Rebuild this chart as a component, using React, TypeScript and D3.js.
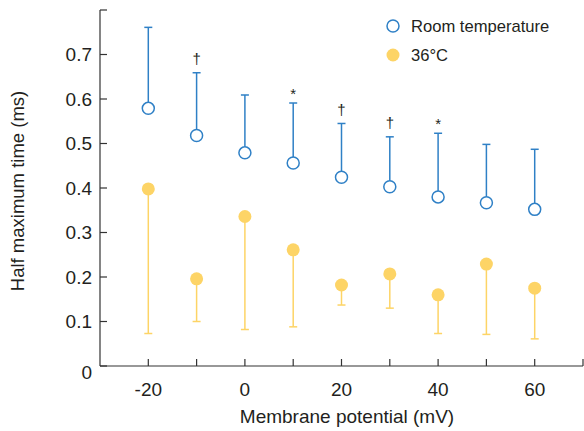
import * as d3 from "d3";

// membrane potential (mV)
const potentials = [-20, -10, 0, 10, 20, 30, 40, 50, 60];
// room temperature: mean and upper error
const roomMean = [0.579, 0.518, 0.479, 0.456, 0.424, 0.403, 0.38, 0.367, 0.352];
const roomUpper = [0.761, 0.659, 0.609, 0.591, 0.545, 0.515, 0.523, 0.498, 0.487];
const roomMarks = ["", "†", "", "*", "†", "†", "*", "", ""];
// 36°C: mean and lower error
const warmMean = [0.398, 0.196, 0.336, 0.261, 0.182, 0.207, 0.16, 0.229, 0.175];
const warmLower = [0.073, 0.1, 0.082, 0.088, 0.137, 0.13, 0.073, 0.071, 0.061];

const yTicks = [0, 0.1, 0.2, 0.3, 0.4, 0.5, 0.6, 0.7, 0.8];
const xTicks = [-20, -10, 0, 10, 20, 30, 40, 50, 60, 70];
const xLabels = [-20, 0, 20, 40, 60];

const BLUE = "#2f80c6";
const YELLOW = "#fdd466";
const AXIS = "#333";
const TEXT = "#231f20";
const FONT = "'Liberation Sans', Arial, sans-serif";

export default function App() {
  const x = d3.scaleLinear().domain([-30, 70]).range([100, 583]);
  const y = d3.scaleLinear().domain([0, 0.8]).range([366, 10]);
  const cap = 4;

  return (
    <svg
      width={584}
      height={431}
      style={{ position: "absolute", left: 0, top: 0, background: "#fff" }}
      fontFamily={FONT}
    >
      {/* axes */}
      <line x1={100} x2={100} y1={y(0.8)} y2={y(0)} stroke={AXIS} strokeWidth={1.2} />
      <line x1={100} x2={583} y1={y(0)} y2={y(0)} stroke={AXIS} strokeWidth={1.2} />
      {yTicks.map((t) => (
        <g key={"y" + t}>
          <line x1={100} x2={107} y1={y(t)} y2={y(t)} stroke={AXIS} strokeWidth={1.2} />
          {t < 0.75 && (
            <text
              x={92}
              y={y(t) + (t === 0 ? 6 : 0)}
              textAnchor="end"
              dominantBaseline="central"
              fontSize={19}
              fill={TEXT}
            >
              {t === 0 ? "0" : d3.format(".1f")(t)}
            </text>
          )}
        </g>
      ))}
      {xTicks.map((t) => (
        <line key={"x" + t} x1={x(t)} x2={x(t)} y1={y(0)} y2={y(0) - 7} stroke={AXIS} strokeWidth={1.2} />
      ))}
      {xLabels.map((t) => (
        <text key={"xl" + t} x={x(t)} y={389} textAnchor="middle" dominantBaseline="central" fontSize={19} fill={TEXT}>
          {t}
        </text>
      ))}
      <text x={347} y={416} textAnchor="middle" dominantBaseline="central" fontSize={19} fill={TEXT}>
        Membrane potential (mV)
      </text>
      <text
        transform={`translate(17, 191) rotate(-90)`}
        textAnchor="middle"
        dominantBaseline="central"
        fontSize={18.5}
        fill={TEXT}
      >
        Half maximum time (ms)
      </text>

      {/* 36°C series */}
      {potentials.map((p, i) => (
        <g key={"w" + p}>
          <line x1={x(p)} x2={x(p)} y1={y(warmMean[i])} y2={y(warmLower[i])} stroke={YELLOW} strokeWidth={1.5} />
          <line x1={x(p) - cap} x2={x(p) + cap} y1={y(warmLower[i])} y2={y(warmLower[i])} stroke={YELLOW} strokeWidth={1.5} />
          <circle cx={x(p)} cy={y(warmMean[i])} r={6.5} fill={YELLOW} />
        </g>
      ))}

      {/* room temperature series */}
      {potentials.map((p, i) => (
        <g key={"r" + p}>
          <line x1={x(p)} x2={x(p)} y1={y(roomMean[i]) - 6} y2={y(roomUpper[i])} stroke={BLUE} strokeWidth={1.5} />
          <line x1={x(p) - cap} x2={x(p) + cap} y1={y(roomUpper[i])} y2={y(roomUpper[i])} stroke={BLUE} strokeWidth={1.5} />
          <circle cx={x(p)} cy={y(roomMean[i])} r={6} fill="#fff" stroke={BLUE} strokeWidth={1.5} />
          {roomMarks[i] && (
            <text
              x={x(p)}
              y={y(roomUpper[i]) - (roomMarks[i] === "*" ? 10 : 14)}
              textAnchor="middle"
              dominantBaseline="central"
              fontSize={15}
              fill={TEXT}
            >
              {roomMarks[i]}
            </text>
          )}
        </g>
      ))}

      {/* legend */}
      <circle cx={393} cy={26} r={6} fill="#fff" stroke={BLUE} strokeWidth={1.5} />
      <text x={411} y={26} dominantBaseline="central" fontSize={16.6} fill={TEXT}>
        Room temperature
      </text>
      <circle cx={393} cy={55} r={6.5} fill={YELLOW} />
      <text x={411} y={55} dominantBaseline="central" fontSize={16.6} fill={TEXT}>
        36°C
      </text>
    </svg>
  );
}
